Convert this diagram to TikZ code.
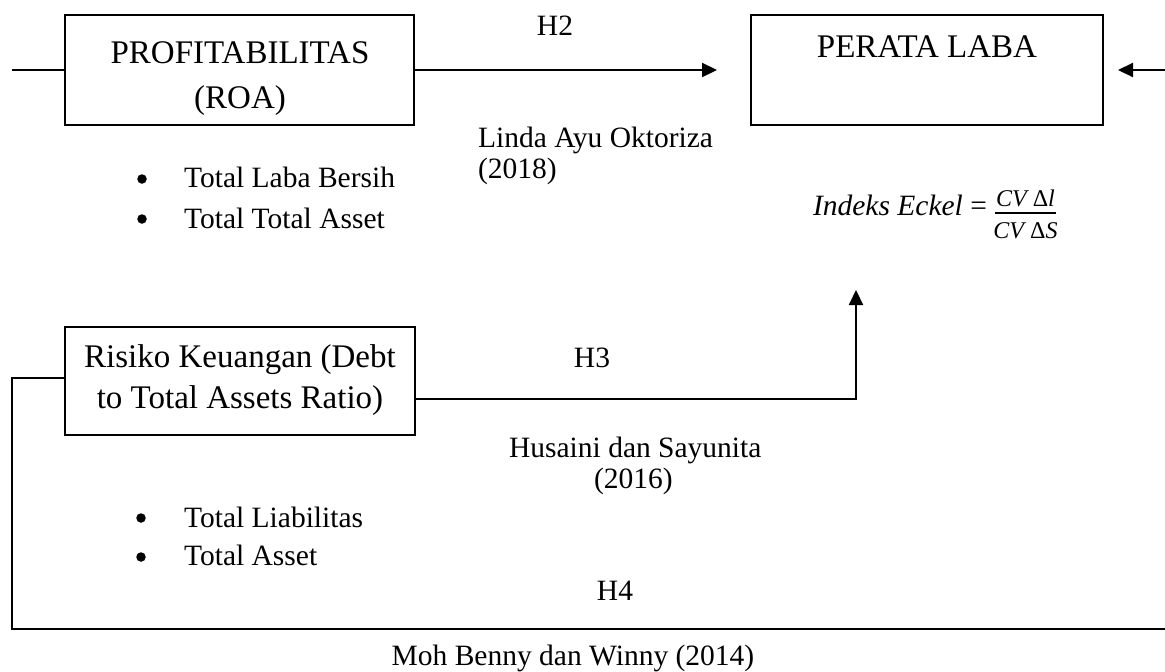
\documentclass[tikz,border=0pt]{standalone}
\usepackage{fontspec}
\setmainfont{Liberation Serif}
\usetikzlibrary{arrows.meta}
\begin{document}
\begin{tikzpicture}[x=1pt,y=-1pt,line width=2.2pt,
  box/.style={draw,line width=2pt,minimum width=349pt,minimum height=110pt,inner sep=0pt},
  txt/.style={font=\fontsize{29.5}{36}\selectfont,inner sep=0pt},
  boxtxt/.style={font=\fontsize{33}{45}\selectfont,inner sep=0pt},
  fractxt/.style={font=\fontsize{24}{26}\selectfont,inner sep=0pt},
  bul/.style={circle,fill,inner sep=0pt,minimum size=9.5pt},
  arr/.style={-{Triangle[length=15pt,width=14pt]}}]
\useasboundingbox (0,0) rectangle (1165,672);
% boxes
\node[box] (prof) at (239.5,70) {};
\node[box,minimum width=352pt] (laba) at (927,70) {};
\node[box,minimum width=350pt,minimum height=108pt] (risk) at (240,381) {};
% box texts
\node[boxtxt,anchor=base] (proft1) at (240,63) {PROFITABILITAS};
\node[boxtxt,anchor=base] (proft2) at (240,108) {(ROA)};
\node[boxtxt,anchor=base] (labat) at (927,57) {PERATA LABA};
\node[boxtxt,anchor=base] (riskt1) at (240,367) {Risiko Keuangan (Debt};
\node[boxtxt,anchor=base] (riskt2) at (240,408) {to Total Assets Ratio)};
% connectors
\coordinate (lefttop) at (12,70);
\coordinate (rightin) at (1165,70);
\coordinate (h3up) at (856,399);
\coordinate (h3tip) at (856,290);
\coordinate (lc1) at (12,378);
\coordinate (lc2) at (12,629);
\coordinate (lc3) at (1165,629);
\draw (lefttop) -- (prof.west);
\draw[arr] (prof.east) -- ([xshift=-33pt]laba.west);
\draw[arr] (rightin) -- ([xshift=14pt]laba.east);
\draw[arr] (risk.east |- h3up) -- (h3up) -- (h3tip);
\draw (risk.west |- lc1) -- (lc1) -- (lc2) -- (lc3);
% labels
\node[txt,anchor=base] (h2) at (555,35) {H2};
\node[txt,anchor=base west] (linda1) at (477,147) {Linda Ayu Oktoriza};
\node[txt,anchor=base west] (linda2) at (477,178) {(2018)};
\node[bul] (b1) at (142,179) {};
\node[txt,anchor=base west] (t1) at (183,187) {Total Laba Bersih};
\node[bul] (b2) at (142,219) {};
\node[txt,anchor=base west] (t2) at (183,228) {Total Total Asset};
\node[txt,anchor=base] (h3) at (592,367) {H3};
\node[txt,anchor=base west] (hus1) at (508,457) {Husaini dan Sayunita};
\node[txt,anchor=base west] (hus2) at (593,488) {(2016)};
\node[bul] (b3) at (141,518) {};
\node[txt,anchor=base west] (t3) at (183,527) {Total Liabilitas};
\node[bul] (b4) at (141,557) {};
\node[txt,anchor=base west] (t4) at (183,565) {Total Asset};
\node[txt,anchor=base] (h4) at (615,600) {H4};
\node[txt,anchor=base] (moh) at (573,665) {Moh Benny dan Winny (2014)};
% formula
\node[txt,anchor=base east] (eckel) at (988,215) {\itshape Indeks Eckel \upshape=};
\node[fractxt,anchor=base] (num) at (1025.5,206) {\itshape CV \upshape Δ\itshape l};
\node[fractxt,anchor=base] (den) at (1025.5,238) {\itshape CV \upshape Δ\itshape S};
\draw[line width=2.5pt] (995,213) -- (1056,213);
\end{tikzpicture}
\end{document}
